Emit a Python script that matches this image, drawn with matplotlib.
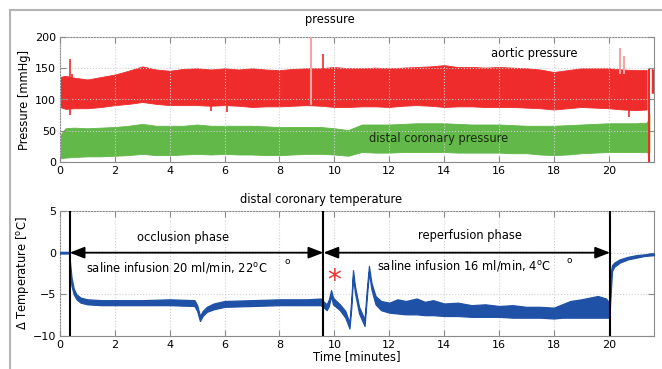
import numpy as np
import matplotlib
matplotlib.use("Agg")
import matplotlib.pyplot as plt
from matplotlib.lines import Line2D

plt.rcParams['font.family'] = ['DejaVu Sans']
plt.rcParams['mathtext.default'] = 'regular'

# ---------------- data ----------------
# pressure envelopes (minutes, mmHg)
t_p = [0, 0.2, 0.5, 1, 1.5, 2, 2.5, 3, 3.5, 4, 4.5, 5, 5.5, 6, 6.5, 7, 7.5, 8, 8.5, 9,
       9.5, 10, 10.5, 11, 11.5, 12, 12.5, 13, 13.5, 14, 14.5, 15, 15.5, 16, 16.5, 17,
       17.5, 18, 18.5, 19, 19.5, 20, 20.5, 21, 21.38]
aortic_hi = [136, 138, 135, 132, 136, 140, 146, 153, 148, 146, 149, 150, 148, 150, 148, 150,
             148, 147, 149, 150, 150, 152, 150, 150, 151, 150, 151, 152, 153, 155, 152, 152,
             151, 152, 151, 150, 148, 144, 147, 150, 150, 150, 148, 147, 147]
aortic_lo = [88, 85, 86, 86, 88, 91, 93, 96, 93, 91, 91, 91, 90, 91, 90, 88, 89, 89, 90, 91,
             90, 88, 88, 89, 89, 88, 90, 91, 90, 88, 89, 89, 88, 88, 88, 87, 86, 84, 86, 88,
             87, 86, 84, 83, 84]
coronary_hi = [43, 54, 55, 54, 55, 56, 58, 61, 58, 58, 58, 60, 58, 58, 58, 58, 57, 56, 56, 56,
               56, 54, 51, 60, 60, 60, 61, 62, 62, 62, 61, 60, 60, 60, 59, 58, 58, 58, 59, 60,
               61, 62, 62, 62, 63]
coronary_lo = [6, 7, 8, 9, 9, 10, 11, 13, 11, 11, 12, 13, 12, 13, 12, 12, 11, 11, 12, 13,
               13, 12, 10, 16, 15, 15, 16, 16, 16, 16, 15, 15, 15, 15, 14, 14, 12, 11, 12, 14,
               15, 16, 16, 16, 16]
# isolated pressure spikes: time, low, high
spike_t = [0.38, 0.42, 5.5, 6.07, 9.6, 20.75]
spike_lo = [75, 120, 82, 80, 140, 72]
spike_hi = [164, 140, 100, 100, 172, 100]
pale_t = [9.15, 20.4, 20.55]
pale_lo = [91, 140, 140]
pale_hi = [200, 183, 170]

# distal coronary temperature band (minutes, delta degC)
t_T = [0.00, 0.33, 0.36, 0.42, 0.50, 0.60, 0.75, 1.00, 1.50, 2.00, 3.00, 4.00, 4.90, 5.00,
       5.10, 5.20, 5.35, 5.60, 6.00, 7.00, 8.00, 9.00, 9.50, 9.62, 9.72, 9.80, 9.88, 9.95,
       10.20, 10.40, 10.55, 10.62, 10.68, 10.75, 10.90, 11.10, 11.18, 11.26, 11.35, 11.50,
       11.70, 12.00, 12.3, 12.6, 13.0, 13.3, 13.6, 14.0, 14.5, 15.0, 15.5, 16.0, 16.5, 17.0,
       17.5, 18.0, 18.3, 18.6, 19.0, 19.3, 19.6, 19.9, 20.02, 20.07, 20.12, 20.2, 20.4, 20.7,
       21.0, 21.3, 21.65]
temp_hi = [0.1, 0.1, -1.0, -3.0, -4.3, -5.0, -5.4, -5.6, -5.7, -5.7, -5.7, -5.6, -5.7, -6.3,
           -7.6, -7.0, -6.5, -6.1, -5.8, -5.7, -5.6, -5.6, -5.5, -5.9, -6.2, -5.6, -4.5, -5.4,
           -6.2, -7.0, -8.4, -5.5, -2.1, -4.0, -6.5, -8.0, -4.5, -1.6, -3.6, -5.2,
           -5.8, -6.0, -5.6, -5.8, -5.5, -5.9, -5.7, -6.1, -6.0, -6.3, -6.2, -6.4, -6.3, -6.5,
           -6.5, -6.6, -6.2, -5.8, -5.6, -5.4, -5.2, -5.5, -6.0, -2.5, -1.5, -1.2, -0.8, -0.5,
           -0.3, -0.2, -0.1]
temp_lo = [-0.1, -0.1, -2.0, -4.0, -5.0, -5.6, -6.0, -6.2, -6.3, -6.3, -6.3, -6.3, -6.4, -7.0,
           -8.2, -7.6, -7.1, -6.8, -6.5, -6.4, -6.3, -6.3, -6.3, -6.6, -6.9, -6.4, -5.2, -6.2,
           -6.9, -7.8, -9.1, -6.5, -2.8, -4.8, -7.3, -8.8, -5.5, -2.3, -4.4, -6.2,
           -6.9, -7.2, -7.3, -7.4, -7.4, -7.5, -7.5, -7.6, -7.6, -7.7, -7.7, -7.7, -7.8, -7.8,
           -7.8, -7.9, -7.8, -7.8, -7.8, -7.8, -7.8, -7.8, -7.8, -5.0, -2.2, -1.7, -1.2, -0.8,
           -0.6, -0.4, -0.3]
phase_bounds = [0.35, 9.6, 20.05]

x_ticks = [0, 2, 4, 6, 8, 10, 12, 14, 16, 18, 20]

# ---------------- style ----------------
RED = '#ee2c2c'
PALE = '#f5a3a3'
GREEN = '#62b848'
BLUE = '#1f51a6'
GRID = '#cfcfcf'
SPINE = '#8a8a8a'
FS = 8.3

fig = plt.figure(figsize=(6.62, 3.69), dpi=100)
W, H = 662, 369


def ax_rect(l, t, r, b):
    return [l / W, 1 - b / H, (r - l) / W, (b - t) / H]


ax1 = fig.add_axes(ax_rect(60, 37, 654, 162))
ax2 = fig.add_axes(ax_rect(60, 211, 654, 336))

for ax in (ax1, ax2):
    ax.set_xlim(0, 21.65)
    ax.set_xticks(x_ticks)
    ax.tick_params(direction='in', length=4, width=0.8, color=SPINE, top=True, right=True,
                   labelsize=8, pad=3, labelcolor='black')
    ax.grid(True, linestyle=':', color=GRID, linewidth=0.8)
    ax.set_axisbelow(False)
    for s in ax.spines.values():
        s.set_color(SPINE)
        s.set_linewidth(0.8)

# --- top: pressure ---
ax1.fill_between(t_p, coronary_lo, coronary_hi, color=GREEN, lw=0.6, edgecolor=GREEN, zorder=2)
ax1.fill_between(t_p, aortic_lo, aortic_hi, color=RED, lw=0.6, edgecolor=RED, zorder=2)
ax1.vlines(spike_t, spike_lo, spike_hi, color=RED, lw=1.2, zorder=3)
ax1.vlines(pale_t, pale_lo, pale_hi, color=PALE, lw=1.5, zorder=3)
# end of recording
ax1.fill_between([21.38, 21.5], [14, 16], [64, 78], color=GREEN, lw=0, zorder=2)
ax1.vlines([21.47], -5, 148, color=RED, lw=1.5, zorder=4)
ax1.fill_between([21.55, 21.65], [110, 110], [150, 148], color=RED, lw=0, zorder=2)
ax1.set_ylim(0, 200)
ax1.set_yticks([0, 50, 100, 150, 200])
ax1.set_ylabel('Pressure [mmHg]', fontsize=FS)
ax1.yaxis.set_label_coords(-0.048, 0.5)
ax1.text(17.3, 174, 'aortic pressure', fontsize=FS, ha='center', va='center', zorder=5)
ax1.text(13.8, 38, 'distal coronary pressure', fontsize=FS, ha='center', va='center',
         color='#1a2a10', zorder=5)

# --- bottom: temperature ---
ax2.fill_between(t_T, temp_lo, temp_hi, color=BLUE, edgecolor=BLUE, lw=0.9, zorder=3)
ax2.set_ylim(-10, 5)
ax2.set_yticks([-10, -5, 0, 5])
ax2.set_ylabel(r'$\Delta$ Temperature [$^{o}$C]', fontsize=FS)
ax2.yaxis.set_label_coords(-0.048, 0.5)
ax2.set_xlabel('Time [minutes]', fontsize=FS, labelpad=0)
ax2.vlines(phase_bounds, -10, 5, color='black', lw=1.5, zorder=4)

for a, b in ((phase_bounds[0], phase_bounds[1]), (phase_bounds[1], phase_bounds[2])):
    ax2.annotate('', xy=(b, 0), xytext=(a, 0),
                 arrowprops=dict(arrowstyle='<|-|>,head_length=0.9,head_width=0.35',
                                 color='black', lw=1.3, shrinkA=0, shrinkB=0), zorder=5)

ax2.text(4.48, 1.8, 'occlusion phase', fontsize=FS, ha='center', va='center')
ax2.text(14.95, 2.0, 'reperfusion phase', fontsize=FS, ha='center', va='center')
ax2.text(0.95, -1.75, r'saline infusion 20 ml/min, 22$^{o}$C', fontsize=FS, ha='left', va='center')
ax2.text(11.55, -1.55, r'saline infusion 16 ml/min, 4$^{o}$C', fontsize=FS, ha='left', va='center')
ax2.text(8.27, -1.0, 'o', fontsize=6.5, ha='center', va='center')
ax2.text(18.55, -0.9, 'o', fontsize=6.5, ha='center', va='center')
ax2.text(10.0, -3.4, '*', fontsize=20, color='#f03030', ha='center', va='center')

# titles
fig.text(330 / W, 1 - 20 / H, 'pressure', fontsize=FS, ha='center', va='center')
fig.text(321 / W, 1 - 200 / H, 'distal coronary temperature', fontsize=FS, ha='center',
         va='center')

# outer gray frame
fig.add_artist(Line2D([10 / W, 1.0], [1 - 10 / H, 1 - 10 / H], color='#b4b4b4', lw=1.5,
                      transform=fig.transFigure))
fig.add_artist(Line2D([10 / W, 10 / W], [0, 1 - 10 / H], color='#b4b4b4', lw=1.5,
                      transform=fig.transFigure))

fig.savefig('out.png', dpi=100)
